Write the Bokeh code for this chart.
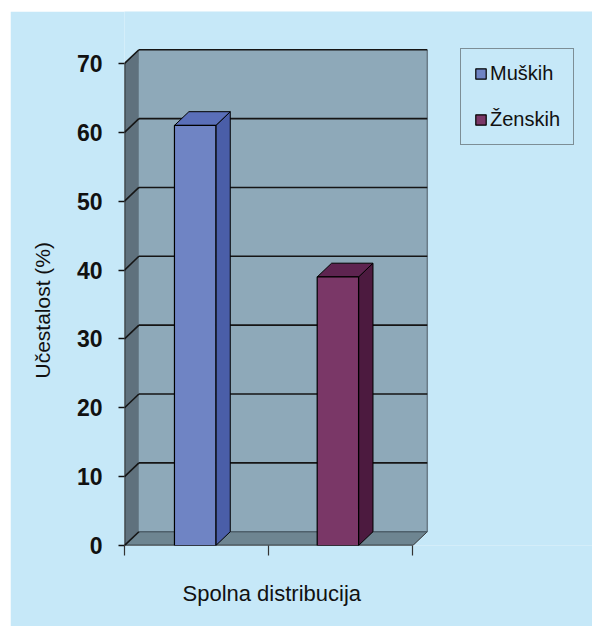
from bokeh.plotting import figure
from bokeh.layouts import row, column
from bokeh.models import (ColumnDataSource, FixedTicker, Legend, LegendItem, Title, Spacer,
                          CustomJSTickFormatter)
from bokeh.embed import file_html
from bokeh.resources import INLINE

# ---- data ----
series = ["Muških", "Ženskih"]
values = [61, 39]
y_ticks = [0, 10, 20, 30, 40, 50, 60, 70]
x_ticks = [0, 1, 2]
x_title = "Spolna distribucija"
y_title = "Učestalost (%)"

# ---- style / layout ----
BG = "#c6e8f8"
WALL = "#8ea9b9"
SIDE = "#5f717d"
FLOOR = "#6e8591"
front_cols = ["#6f84c4", "#7a3767"]
side_cols = ["#4a5ea8", "#4c1a3f"]
top_cols = ["#5a6fb8", "#5e2450"]
bar_centers = [0.49, 1.48]
bar_w = 0.287
DX, DY = 0.1, 2.0
YMAX = 70
XMAX = 2

p = figure(width=582, height=615, output_backend="svg", toolbar_location=None,
           x_range=(0, 3.246), y_range=(0, 77.55),
           min_border_left=113, min_border_bottom=81, min_border_top=0, min_border_right=0)
p.background_fill_color = BG
p.border_fill_color = BG
p.outline_line_color = None
p.grid.visible = False

# walls
p.patch([0, 0, DX, DX], [0, YMAX, YMAX + DY, DY], fill_color=SIDE, line_color=None)
p.quad(left=[DX], right=[XMAX + DX], bottom=[DY], top=[YMAX + DY],
       fill_color=WALL, line_color=None)
p.patch([0, XMAX, XMAX + DX, DX], [0, 0, DY, DY], fill_color=FLOOR, line_color=None)
p.segment(x0=[XMAX + DX], y0=[DY], x1=[XMAX + DX], y1=[YMAX + DY],
          line_color="#6a7c88", line_width=1.5)
p.segment(x0=[XMAX], y0=[0], x1=[XMAX + DX], y1=[DY], line_color="#333333", line_width=1)
p.segment(x0=[DX], y0=[DY], x1=[XMAX + DX], y1=[DY], line_color="#4e606b", line_width=1.5)

# gridlines on back wall + side wall diagonals
gv = [t for t in y_ticks if t > 0]
p.segment(x0=[DX] * len(gv), y0=[v + DY for v in gv], x1=[XMAX + DX] * len(gv),
          y1=[v + DY for v in gv], line_color="#151515", line_width=1.6)
p.segment(x0=[0] * len(y_ticks), y0=y_ticks, x1=[DX] * len(y_ticks),
          y1=[v + DY for v in y_ticks], line_color="#151515", line_width=1.6)

# front axis lines
p.segment(x0=[0], y0=[0], x1=[0], y1=[YMAX], line_color="#111111", line_width=1.6)
p.segment(x0=[0], y0=[0], x1=[XMAX], y1=[0], line_color="#111111", line_width=1.6)

# bars
front_renderers = []
for i, (name, v) in enumerate(zip(series, values)):
    cx = bar_centers[i]
    l, r = cx - bar_w / 2, cx + bar_w / 2
    p.patch([r, r, r + DX, r + DX], [0, v, v + DY, DY],
            fill_color=side_cols[i], line_color="black", line_width=1)
    p.patch([l, r, r + DX, l + DX], [v, v, v + DY, v + DY],
            fill_color=top_cols[i], line_color="black", line_width=1)
    src = ColumnDataSource(dict(x=[cx], top=[v]))
    fr = p.vbar(x="x", top="top", bottom=0, width=bar_w, source=src,
                fill_color=front_cols[i], line_color="black", line_width=1.2)
    front_renderers.append(fr)

# axes
ya = p.yaxis[0]
ya.ticker = FixedTicker(ticks=y_ticks)
ya.axis_line_color = None
ya.major_tick_out = 6
ya.major_tick_in = 0
ya.minor_tick_line_color = None
ya.major_tick_line_color = "#111111"
ya.major_tick_line_width = 1.5
ya.major_label_standoff = 16
ya.major_label_text_font = "Liberation Sans"
ya.major_label_text_font_style = "bold"
ya.major_label_text_font_size = "23px"
ya.major_label_text_color = "#111111"

xa = p.xaxis[0]
xa.ticker = FixedTicker(ticks=x_ticks)
xa.axis_line_color = None
xa.major_tick_out = 10
xa.major_tick_in = 0
xa.minor_tick_line_color = None
xa.major_tick_line_color = "#333333"
xa.major_tick_line_width = 1.2
xa.formatter = CustomJSTickFormatter(code="return ' '")
xa.major_label_text_font_size = "19px"
xa.major_label_standoff = 0

# titles
p.add_layout(Title(text=x_title, align="left", offset=58, vertical_align="middle",
                   standoff=0, text_font="Liberation Sans", text_font_style="normal",
                   text_font_size="22px", text_color="#111111"), "below")
p.add_layout(Title(text=y_title, align="left", offset=167, vertical_align="middle",
                   standoff=38, text_font="Liberation Sans", text_font_style="normal",
                   text_font_size="21px", text_color="#111111"), "left")

legend = Legend(items=[LegendItem(label=s, renderers=[r]) for s, r in zip(series, front_renderers)],
                location=(336, 400))
legend.background_fill_color = BG
legend.background_fill_alpha = 1
legend.border_line_color = "#333333"
legend.border_line_width = 1
legend.glyph_width = 13
legend.glyph_height = 13
legend.label_standoff = 3
legend.label_height = 23
legend.spacing = 23
legend.padding = 13
legend.margin = 0
legend.label_text_font = "Liberation Sans"
legend.label_text_font_size = "20px"
legend.label_text_color = "#111111"
p.add_layout(legend)

layout = row(Spacer(width=10), column(Spacer(height=11), p))
open("out.html", "w").write(file_html(layout, INLINE))
